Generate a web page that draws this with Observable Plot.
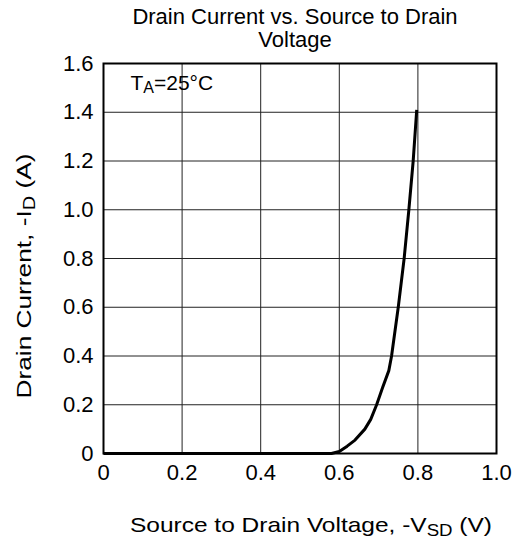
<!DOCTYPE html>
<html>
<head>
<meta charset="utf-8">
<script src="https://cdn.jsdelivr.net/npm/d3@7"></script>
<script src="https://cdn.jsdelivr.net/npm/@observablehq/plot@0.6"></script>
<style>
  html, body { margin: 0; padding: 0; background: #fff; }
  #title { width: 519px; box-sizing: border-box; height: 53px; padding-left: 71px; padding-top: 5px;
    font-family: "Liberation Sans", Arial, sans-serif; font-size: 22px; line-height: 23px; text-align: center; color: #000; }
  #chart svg { display: block; }
</style>
</head>
<body>
<div id="title">Drain Current vs. Source to Drain<br>Voltage</div>
<div id="chart"></div>
<script>
// Source-to-drain voltage (V) and drain current (A)
const vsd = [0, 0.58, 0.60, 0.62, 0.64, 0.665, 0.68, 0.695, 0.71, 0.726, 0.733, 0.75, 0.765, 0.777, 0.788, 0.797];
const id  = [0, 0,    0.008, 0.03, 0.055, 0.10, 0.14, 0.20, 0.27, 0.34, 0.40, 0.60, 0.80, 1.00, 1.20, 1.41];

const xTicks = [0, 0.2, 0.4, 0.6, 0.8, 1.0];
const xTickLabels = ["0", "0.2", "0.4", "0.6", "0.8", "1.0"];
const yTicks = [0, 0.2, 0.4, 0.6, 0.8, 1.0, 1.2, 1.4, 1.6];
const yTickLabels = ["0", "0.2", "0.4", "0.6", "0.8", "1.0", "1.2", "1.4", "1.6"];

const xLabel = ["Source to Drain Voltage, -V", "SD", " (V)"];
const yLabel = ["Drain Current, -I", "D", " (A)"];
const note = ["T", "A", "=25°C"];
const notePos = [0.07, 1.49];

const data = vsd.map((v, i) => ({v, i: id[i]}));

const chart = Plot.plot({
  width: 519,
  height: 488,
  marginTop: 10,
  marginBottom: 88,
  marginLeft: 103,
  marginRight: 23,
  style: {fontFamily: "'Liberation Sans', Arial, sans-serif", fontSize: "21px", background: "white", overflow: "visible", color: "#000"},
  x: {domain: [0, 1]},
  y: {domain: [0, 1.6]},
  marks: [
    Plot.ruleX(xTicks.slice(1, -1), {stroke: "#222", strokeWidth: 1}),
    Plot.ruleY(yTicks.slice(1, -1), {stroke: "#222", strokeWidth: 1}),
    Plot.axisX({ticks: xTicks, tickFormat: d => xTickLabels[xTicks.indexOf(d)], tickSize: 0, tickPadding: 11, label: null, fontSize: 22}),
    Plot.axisY({ticks: yTicks, tickFormat: d => yTickLabels[yTicks.indexOf(d)], tickSize: 0, tickPadding: 10, label: null, fontSize: 22}),
    Plot.frame({stroke: "#000", strokeWidth: 2}),
    Plot.line(data, {x: "v", y: "i", stroke: "#000", strokeWidth: 3, strokeLinejoin: "round", strokeLinecap: "butt"})
  ]
});
document.getElementById("chart").appendChild(chart);

const svg = d3.select(chart);
const sx = chart.scale("x"), sy = chart.scale("y");
const font = "'Liberation Sans', Arial, sans-serif";

function subText(g, parts, small, shift) {
  g.append("tspan").text(parts[0]);
  g.append("tspan").attr("font-size", small).attr("dy", shift).text(parts[1]);
  g.append("tspan").attr("dy", -shift).text(parts[2]);
}

// x axis label
const xl = svg.append("text")
  .attr("x", 130).attr("y", 479)
  .attr("text-anchor", "start").attr("font-family", font).attr("font-size", 21).attr("fill", "#000")
  .attr("textLength", 362).attr("lengthAdjust", "spacingAndGlyphs");
subText(xl, xLabel, 16, 4);

// y axis label
const yl = svg.append("text")
  .attr("transform", `translate(31,${(sy.apply(0) + sy.apply(1.6)) / 2 + 18}) rotate(-90)`)
  .attr("text-anchor", "middle").attr("font-family", font).attr("font-size", 21).attr("fill", "#000")
  .attr("textLength", 245).attr("lengthAdjust", "spacingAndGlyphs");
subText(yl, yLabel, 16, 4);

// annotation
const nt = svg.append("text")
  .attr("x", sx.apply(notePos[0])).attr("y", sy.apply(notePos[1]))
  .attr("text-anchor", "start").attr("font-family", font).attr("font-size", 21).attr("fill", "#000");
subText(nt, note, 16, 3);
</script>
</body>
</html>
